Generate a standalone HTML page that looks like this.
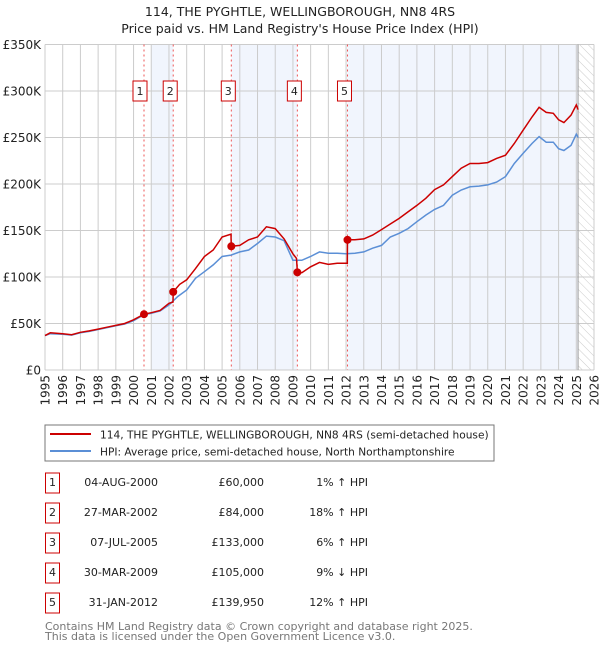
<!DOCTYPE html>
<html><head><meta charset="utf-8"><style>
body{margin:0;background:#fff;font-family:"DejaVu Sans","Liberation Sans",sans-serif;}
svg{display:block}
</style></head><body>
<svg id="c" width="600" height="650" xmlns="http://www.w3.org/2000/svg" font-family="DejaVu Sans, Liberation Sans, sans-serif">
<text x="300" y="16" text-anchor="middle" font-size="12.5" fill="#222">114, THE PYGHTLE, WELLINGBOROUGH, NN8 4RS</text>
<text x="300" y="33" text-anchor="middle" font-size="12.5" fill="#222">Price paid vs. HM Land Registry's House Price Index (HPI)</text>
<defs><pattern id="hatch" width="6" height="6" patternUnits="userSpaceOnUse" patternTransform="rotate(-45)"><line x1="0" y1="0" x2="0" y2="6" stroke="#ccc" stroke-width="1"/></pattern></defs>
<g id="plot"></g>
<rect x="45" y="425" width="449" height="36" fill="#fff" stroke="#777"/>
<line x1="50" y1="434" x2="91" y2="434" stroke="#cc0000" stroke-width="2"/>
<text x="100" y="438.5" font-size="10.6" fill="#222">114, THE PYGHTLE, WELLINGBOROUGH, NN8 4RS (semi-detached house)</text>
<line x1="50" y1="451" x2="91" y2="451" stroke="#5b8fd6" stroke-width="2"/>
<text x="100" y="455.5" font-size="10.6" fill="#222">HPI: Average price, semi-detached house, North Northamptonshire</text>
<g id="table" font-size="11" fill="#222"></g>
<text x="45" y="630" font-size="11" fill="#777">Contains HM Land Registry data © Crown copyright and database right 2025.</text>
<text x="45" y="640" font-size="11" fill="#777">This data is licensed under the Open Government Licence v3.0.</text>
</svg>
<script>
const yearTicks=[1995,1996,1997,1998,1999,2000,2001,2002,2003,2004,2005,2006,2007,2008,2009,2010,2011,2012,2013,2014,2015,2016,2017,2018,2019,2020,2021,2022,2023,2024,2025,2026];
const valueTicks=[0,50,100,150,200,250,300,350];
const valueTickLabels=["£0","£50K","£100K","£150K","£200K","£250K","£300K","£350K"];
const saleYears=[2000.59,2002.24,2005.52,2009.25,2012.08];
const saleValues=[60,84,133,105,139.95];
const saleDates=["04-AUG-2000","27-MAR-2002","07-JUL-2005","30-MAR-2009","31-JAN-2012"];
const salePrices=["£60,000","£84,000","£133,000","£105,000","£139,950"];
const saleHpi=["1% ↑ HPI","18% ↑ HPI","6% ↑ HPI","9% ↓ HPI","12% ↑ HPI"];
const redYears=[1995,1995.3,1996,1996.5,1997,1997.5,1998,1998.5,1999,1999.5,2000,2000.59,2001,2001.5,2002,2002.23,2002.24,2002.6,2003,2003.5,2004,2004.5,2005,2005.5,2005.51,2005.52,2006,2006.5,2007,2007.5,2008,2008.5,2009,2009.2,2009.25,2009.5,2010,2010.5,2011,2011.5,2012.07,2012.08,2012.5,2013,2013.5,2014,2014.5,2015,2015.5,2016,2016.5,2017,2017.5,2018,2018.5,2019,2019.5,2020,2020.5,2021,2021.5,2022,2022.5,2022.9,2023.3,2023.7,2024,2024.3,2024.7,2025,2025.1];
const redValues=[37,40,39,38,40.5,42,44,46,48,50,54,60,61.6,64,71.7,73,84,92,97,109,122,129,143,146,140,133,134,140,143,154,152,141,125,120,105,104.6,111,115.7,113.6,114.7,114.7,139.95,140,141,145,151,157,163,170,177,184.6,194,199,208,217,222,222,223,227.5,231,243.5,258,272,282.5,277,276,269,266,274,285,280];
const blueYears=[1995,1995.3,1996,1996.5,1997,1997.5,1998,1998.5,1999,1999.5,2000,2000.59,2001,2001.5,2002,2002.5,2003,2003.5,2004,2004.5,2005,2005.5,2006,2006.5,2007,2007.5,2008,2008.5,2009,2009.5,2010,2010.5,2011,2011.5,2012,2012.5,2013,2013.5,2014,2014.5,2015,2015.5,2016,2016.5,2017,2017.5,2018,2018.5,2019,2019.5,2020,2020.5,2021,2021.5,2022,2022.5,2022.9,2023.3,2023.7,2024,2024.3,2024.7,2025,2025.1];
const blueValues=[37,39,38.5,37.5,40,41.5,43.5,45.5,47.5,49.5,53,59.5,61,63.5,70,79,86,98.6,105.7,113,122,123.6,127,129,136,144,143,139,118,118,122,127,125.5,125.5,125,125.5,127,131,134,143,147,152,159.5,166.6,172.7,177,188,193.5,197,197.7,199,202,208,222,233,243.6,251,245,245,238,236,241.5,253.6,250];
const NS="http://www.w3.org/2000/svg";
const X0=45,X1=594,Y0=370,Y1=44.5;
function xs(y){return X0+(y-1995)/(2026-1995)*(X1-X0);}
function ys(v){return Y0-v/350*(Y0-Y1);}
const plot=document.getElementById('plot');
function mk(tag,attrs,parent){const e=document.createElementNS(NS,tag);for(const k in attrs)e.setAttribute(k,attrs[k]);(parent||plot).appendChild(e);return e;}
const shadeStarts=[2001,saleYears[2],saleYears[4]];
const shadeEnds=[saleYears[1],saleYears[3],2025.1];
for(let i=0;i<shadeStarts.length;i++){
 const r=mk('rect',{x:xs(shadeStarts[i]),y:Y1,width:xs(shadeEnds[i])-xs(shadeStarts[i]),height:Y0-Y1,fill:'#f1f5fd'});
 
 
}
const h=mk('rect',{x:xs(2025.1),y:Y1,width:X1-xs(2025.1),height:Y0-Y1,fill:'url(#hatch)'});


yearTicks.forEach(function(yr){
 const l=mk('line',{x1:xs(yr),x2:xs(yr),y1:Y1,y2:Y0,stroke:'#cccccc','stroke-width':1});
 
 
 const t=mk('text',{x:0,y:0,'font-size':12,fill:'#222','text-anchor':'end',transform:'translate('+(xs(yr)+4.5)+','+(Y0+5)+') rotate(-90)'});
 t.textContent=yr;
 
 
});
valueTicks.forEach(function(v,i){
 const l=mk('line',{x1:X0,x2:X1,y1:ys(v),y2:ys(v),stroke:'#cccccc','stroke-width':1});
 
 
 const t=mk('text',{x:X0-4,y:ys(v)+4.5,'font-size':12,fill:'#222','text-anchor':'end'});
 t.textContent=valueTickLabels[i];
 
 
});
const vl=mk('line',{x1:xs(2025.1),x2:xs(2025.1),y1:Y1,y2:Y0,stroke:'#999','stroke-width':1});


saleYears.forEach(function(yr,i){
 const l=mk('line',{x1:xs(yr),x2:xs(yr),y1:Y1,y2:Y0,stroke:'#ee5555','stroke-width':1,'stroke-dasharray':'2,3'});
 
 
 const b=mk('rect',{x:xs(yr)-10,y:81,width:14,height:20,fill:'#fff',stroke:'#cc0000'});
 if(i===0)b.setAttribute('x',xs(yr)-11);
 
 
 const t=mk('text',{x:+b.getAttribute('x')+7,y:95,'font-size':11,fill:'#222','text-anchor':'middle'});
 t.textContent=String(i+1);
 
 
});
function path(xa,va){return xa.map(function(x,i){return (i?'L':'M')+xs(x).toFixed(1)+','+ys(va[i]).toFixed(1);}).join('');}
const bl=mk('path',{d:path(blueYears,blueValues),fill:'none',stroke:'#5b8fd6','stroke-width':1.5});


const rl=mk('path',{d:path(redYears,redValues),fill:'none',stroke:'#cc0000','stroke-width':1.5});


saleYears.forEach(function(yr,i){
 const c=mk('circle',{cx:xs(yr),cy:ys(saleValues[i]),r:4,fill:'#cc0000'});
 
 
});
const tbl=document.getElementById('table');
saleDates.forEach(function(d,i){
 const cy=483+i*30;
 const b=mk('rect',{x:45.5,y:cy-10,width:14,height:20,fill:'#fff',stroke:'#cc0000'},tbl);
 
 
 const n=mk('text',{x:52.5,y:cy+3,'text-anchor':'middle'},tbl);
 n.textContent=String(i+1);
 
 
 const t1=mk('text',{x:158,y:cy+3,'text-anchor':'end'},tbl);
 t1.textContent=d;
 
 
 const t2=mk('text',{x:264,y:cy+3,'text-anchor':'end'},tbl);
 t2.textContent=salePrices[i];
 
 
 const t3=mk('text',{x:368,y:cy+3,'text-anchor':'end'},tbl);
 t3.textContent=saleHpi[i];
 
 
});
</script>
</body></html>
